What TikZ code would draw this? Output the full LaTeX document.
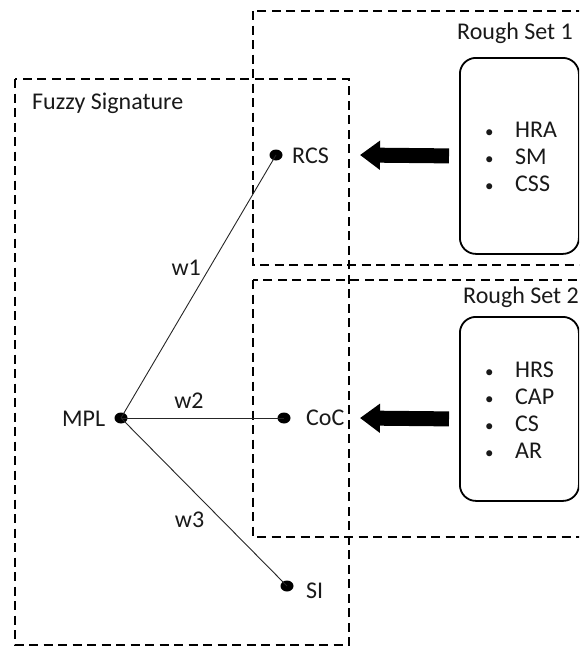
\documentclass[tikz,border=0pt]{standalone}
\usepackage{fontspec}
\setmainfont{Carlito}
\usetikzlibrary{arrows.meta,shapes.geometric}
\newcommand{\bul}{\makebox[31pt][l]{\hspace{1pt}{\fontsize{17}{17}\selectfont •}}}
\begin{document}
\begin{tikzpicture}[x=1pt,y=-1pt,
  region/.style={draw, line width=1.8pt, dash pattern=on 9pt off 5.5pt},
  setbox/.style={draw, line width=1.8pt, rounded corners=16pt, inner sep=0pt},
  dot/.style={ellipse, fill=black, minimum width=13pt, minimum height=11pt, inner sep=0pt},
  txt/.style={inner sep=0pt, anchor=base west, text=black!90, font=\fontsize{24}{27}\selectfont},
  list/.style={inner sep=0pt, anchor=west, align=left, text=black!90, font=\fontsize{24}{27}\selectfont},
  link/.style={draw, line width=0.9pt, black!85},
  bigarrow/.style={line width=15pt, -{Triangle[length=20pt,width=28pt]}},
  wlabel/.style={font=\fontsize{24}{27}\selectfont, text=black!90, inner sep=0pt}]
\useasboundingbox (0,0) rectangle (579,648);
\clip (0,0) rectangle (579,648);
% dashed regions
\draw[region] (15,79) rectangle (349,645);
\draw[region] (253,11) rectangle (600,265);
\draw[region] (253,280) rectangle (600,537);
% titles
\node[txt] (fuzzyt) at (32,109) {Fuzzy Signature};
\node[txt] (rs1t) at (457,39) {Rough Set 1};
\node[txt] (rs2t) at (463,303) {Rough Set 2};
% rough set boxes
\node[setbox, minimum width=119pt, minimum height=196pt, anchor=north west] (rs1) at (459,57) {};
\node[setbox, minimum width=119pt, minimum height=184pt, anchor=north west] (rs2) at (459,316) {};
\node[list] (rs1list) at (484,157) {\bul HRA\\\bul SM\\\bul CSS};
\node[list] (rs2list) at (484,410) {\bul HRS\\\bul CAP\\\bul CS\\\bul AR};
% big arrows
\coordinate (tip1) at (360,155);
\coordinate (tip2) at (360,418);
\draw[bigarrow] ([xshift=-10pt]rs1.west) -- (tip1);
\draw[bigarrow] ([xshift=-10pt,yshift=-10pt]rs2.west) -- (tip2);
% fuzzy signature
\node[dot] (mpl) at (121,418) {};
\node[dot] (rcs) at (276,155) {};
\node[dot] (coc) at (284,418) {};
\node[dot] (si) at (287,586) {};
\node[txt] (mplt) at (62,426) {MPL};
\node[txt] (rcst) at (292,163) {RCS};
\node[txt] (coct) at (306,425) {CoC};
\node[txt] (sit) at (306,598) {SI};
\draw[link] (mpl.center) -- node[wlabel, pos=0.57, anchor=east, xshift=-8pt] {w1} (rcs.center);
\draw[link] (mpl.center) -- node[wlabel, pos=0.417, anchor=south, yshift=9pt] {w2} (coc.center);
\draw[link] (mpl.center) -- node[wlabel, pos=0.607, anchor=east, xshift=-17pt] {w3} (si.center);
\end{tikzpicture}
\end{document}
